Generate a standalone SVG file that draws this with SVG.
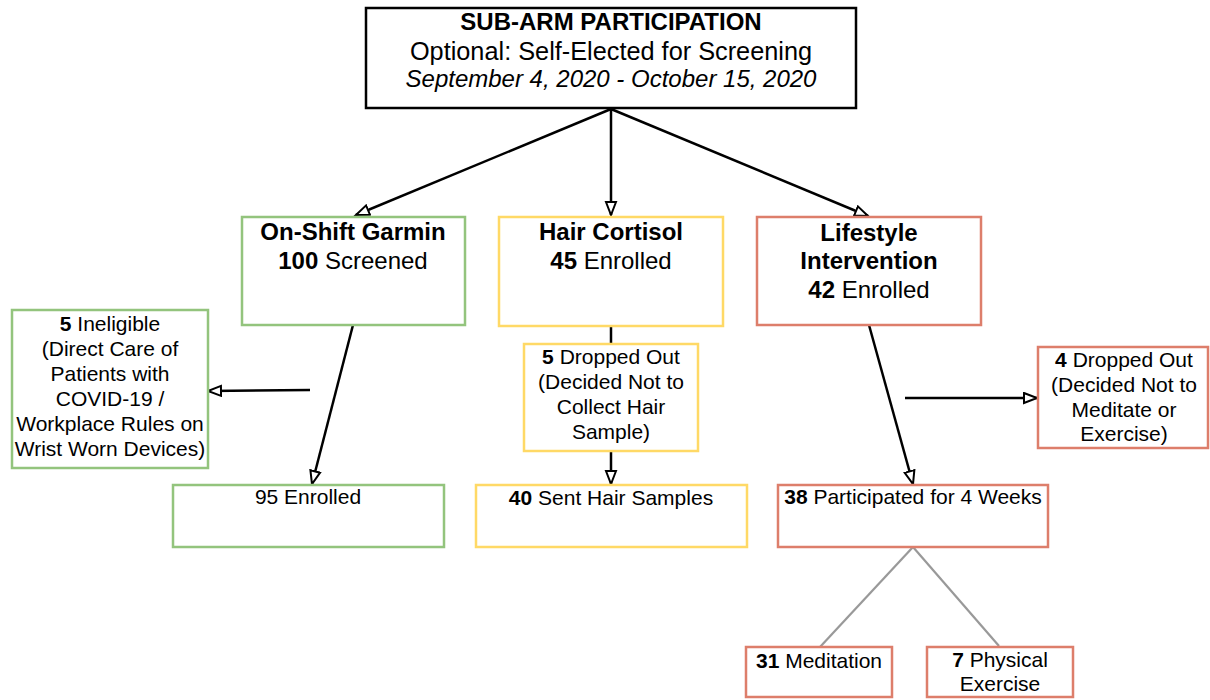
<svg xmlns="http://www.w3.org/2000/svg" width="1210" height="700" viewBox="0 0 1210 700">
<defs>
<style>
text{font-family:"Liberation Sans",Arial,sans-serif;fill:#000;text-anchor:middle}
.h{font-size:24px;font-weight:bold}
.s{font-size:24px}
.t{font-size:21px}
.b{font-weight:bold}
.box{fill:#fff;stroke-width:2.5}
.g{stroke:#93c47d}
.y{stroke:#ffd966}
.r{stroke:#dd7e6b}
.k{stroke:#000}
.c{stroke:#000;stroke-width:2.5;fill:none}
.gr{stroke:#999;stroke-width:2.2;fill:none}
</style>
<marker id="ah" markerUnits="userSpaceOnUse" markerWidth="17" markerHeight="14" refX="14" refY="6.5" orient="auto">
<path d="M1,1.5 L14,6.5 L1,11.5 Z" fill="#fff" stroke="#000" stroke-width="2"/>
</marker>
</defs>
<rect width="1210" height="700" fill="#fff"/>
<g id="connectors">
<line class="c" x1="611" y1="109" x2="356" y2="215" marker-end="url(#ah)"/>
<line class="c" x1="611" y1="109" x2="611" y2="215" marker-end="url(#ah)"/>
<line class="c" x1="611" y1="109" x2="868" y2="216" marker-end="url(#ah)"/>
<line class="c" x1="353" y1="325" x2="312" y2="484" marker-end="url(#ah)"/>
<line class="c" x1="310" y1="390" x2="208" y2="391" marker-end="url(#ah)"/>
<line class="c" x1="611" y1="326" x2="611" y2="344"/>
<line class="c" x1="611" y1="451" x2="611" y2="484" marker-end="url(#ah)"/>
<line class="c" x1="869" y1="325" x2="913" y2="484" marker-end="url(#ah)"/>
<line class="c" x1="905" y1="398" x2="1037" y2="398" marker-end="url(#ah)"/>
<line class="gr" x1="913" y1="547" x2="820" y2="647"/>
<line class="gr" x1="913" y1="547" x2="999" y2="646"/>
</g>
<g id="top">
<rect class="box k" x="366" y="8" width="490" height="100"/>
<text x="611" y="30" class="h">SUB-ARM PARTICIPATION</text>
<text x="611" y="60" style="font-size:25.3px">Optional: Self-Elected for Screening</text>
<text x="611" y="87" style="font-size:24px;font-style:italic">September 4, 2020 - October 15, 2020</text>
</g>
<g id="garmin">
<rect class="box g" x="242" y="217" width="223" height="108"/>
<text x="353" y="240" class="h">On-Shift Garmin</text>
<text x="353" y="269" class="s"><tspan class="b">100</tspan> Screened</text>
</g>
<g id="ineligible">
<rect class="box g" x="12" y="310" width="196" height="158"/>
<text class="t" x="110" y="331"><tspan class="b">5</tspan> Ineligible</text>
<text class="t" x="110" y="356">(Direct Care of</text>
<text class="t" x="110" y="381">Patients with</text>
<text class="t" x="110" y="406">COVID-19 /</text>
<text class="t" x="110" y="431">Workplace Rules on</text>
<text class="t" x="110" y="456">Wrist Worn Devices)</text>
</g>
<g id="enrolled95">
<rect class="box g" x="173" y="485" width="271" height="62"/>
<text class="t" x="308" y="504">95 Enrolled</text>
</g>
<g id="hair">
<rect class="box y" x="499" y="217" width="224" height="109"/>
<text x="611" y="240" class="h">Hair Cortisol</text>
<text x="611" y="269" class="s"><tspan class="b">45</tspan> Enrolled</text>
</g>
<g id="hairdrop">
<rect class="box y" x="524" y="344" width="174" height="107"/>
<text class="t" x="611" y="364"><tspan class="b">5</tspan> Dropped Out</text>
<text class="t" x="611" y="389">(Decided Not to</text>
<text class="t" x="611" y="414">Collect Hair</text>
<text class="t" x="611" y="439">Sample)</text>
</g>
<g id="hairsent">
<rect class="box y" x="476" y="485" width="271" height="62"/>
<text class="t" x="611" y="505"><tspan class="b">40</tspan> Sent Hair Samples</text>
</g>
<g id="lifestyle">
<rect class="box r" x="757" y="217" width="224" height="108"/>
<text x="869" y="241" class="h">Lifestyle</text>
<text x="869" y="269" class="h">Intervention</text>
<text x="869" y="298" class="s"><tspan class="b">42</tspan> Enrolled</text>
</g>
<g id="lifedrop">
<rect class="box r" x="1038" y="347" width="170" height="101"/>
<text class="t" x="1124" y="367"><tspan class="b">4</tspan> Dropped Out</text>
<text class="t" x="1124" y="392">(Decided Not to</text>
<text class="t" x="1124" y="417">Meditate or</text>
<text class="t" x="1124" y="441">Exercise)</text>
</g>
<g id="participated">
<rect class="box r" x="778" y="485" width="270" height="62"/>
<text class="t" x="913" y="504"><tspan class="b">38</tspan> Participated for 4 Weeks</text>
</g>
<g id="meditation">
<rect class="box r" x="746" y="647" width="146" height="50"/>
<text class="t" x="819" y="668"><tspan class="b">31</tspan> Meditation</text>
</g>
<g id="exercise">
<rect class="box r" x="927" y="647" width="146" height="50"/>
<text class="t" x="1000" y="667"><tspan class="b">7</tspan> Physical</text>
<text class="t" x="1000" y="691">Exercise</text>
</g>
</svg>
